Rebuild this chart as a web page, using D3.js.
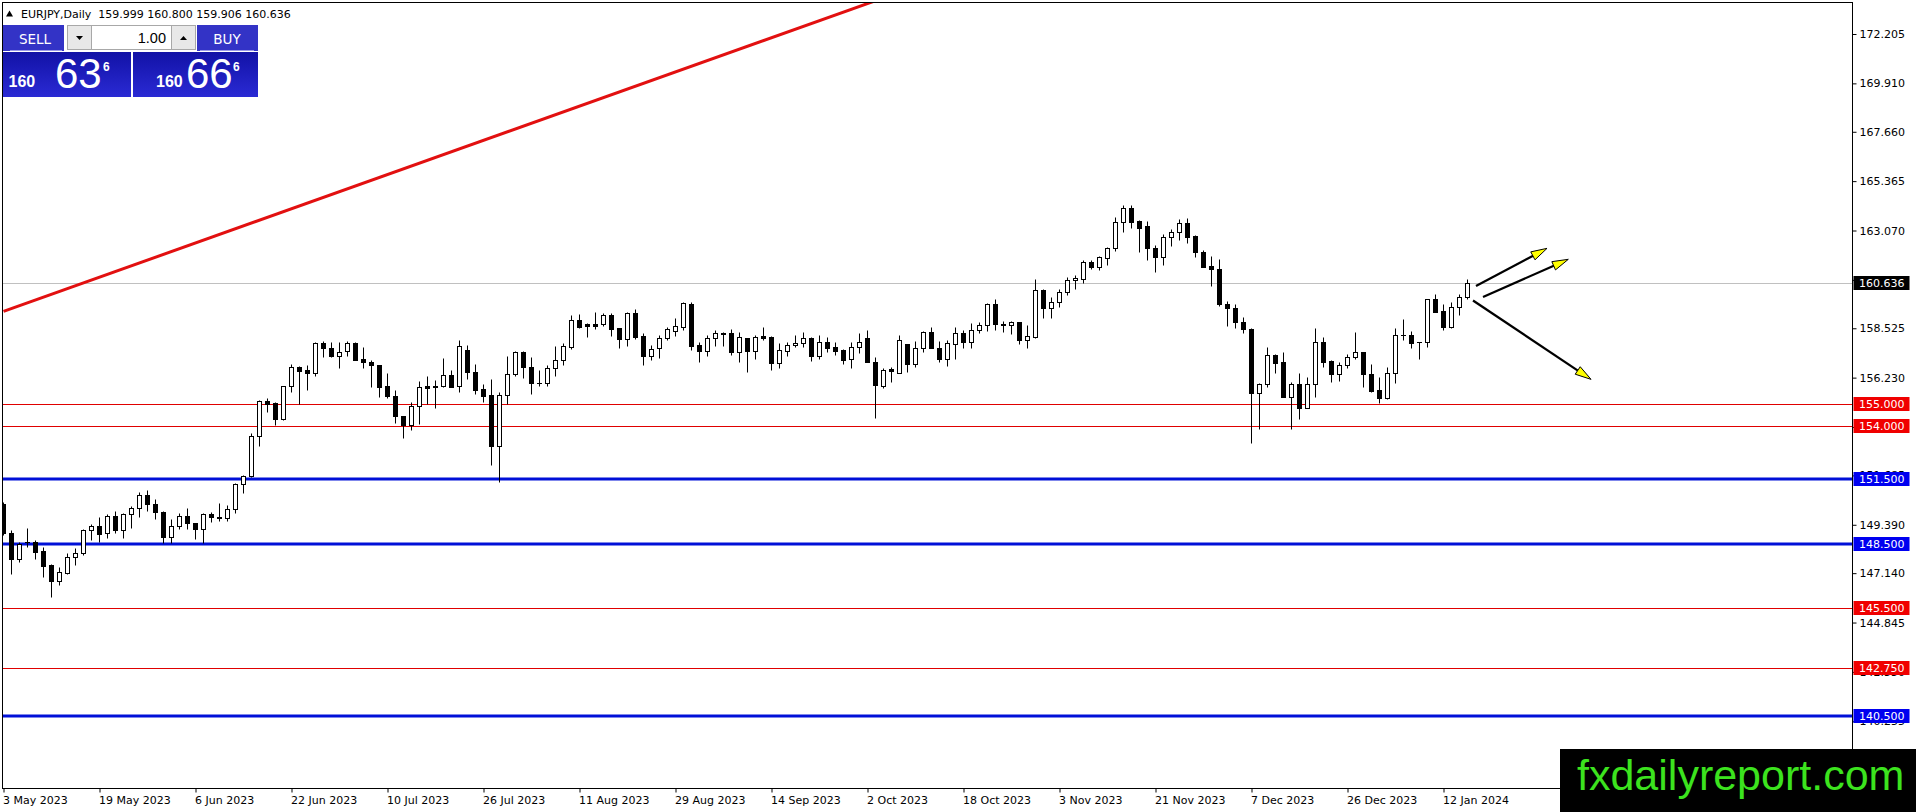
<!DOCTYPE html>
<html>
<head>
<meta charset="utf-8">
<script src="https://cdn.jsdelivr.net/npm/d3@7"></script>
<style>
  body { margin: 0; background: #fff; }
  svg { display: block; }
</style>
</head>
<body>
<div id="chart"></div>
<script>
// ---- data ----
var symbolTitle = "EURJPY,Daily";
var lastOHLC = ["159.999", "160.800", "159.906", "160.636"];

var opens = [150.35,148.99,147.78,148.58,148.60,148.17,147.52,146.79,147.13,147.90,
  148.09,149.17,149.33,149.02,149.80,149.14,149.87,150.15,150.77,150.34,
  150.00,148.84,149.33,149.80,149.45,149.20,149.89,149.75,149.70,150.10,
  151.28,151.67,153.50,155.15,155.05,154.33,155.84,156.74,156.60,156.44,
  157.84,157.60,157.22,157.45,157.84,157.09,156.95,156.83,155.85,155.39,
  154.46,154.04,154.89,155.82,155.79,155.82,156.35,155.82,157.53,156.50,
  155.70,155.43,153.03,155.43,156.41,157.40,156.72,155.96,155.99,156.66,
  157.05,157.64,158.91,158.71,158.71,158.71,159.14,158.52,158.03,159.22,
  158.16,157.25,157.59,158.06,158.41,158.60,159.65,157.75,157.49,158.06,
  158.27,158.29,157.44,158.08,157.49,158.16,158.13,156.89,157.47,157.73,
  157.82,158.06,157.25,157.87,157.64,157.50,157.09,157.67,158.05,156.94,
  155.86,156.63,156.43,157.78,156.85,157.62,158.33,157.62,157.09,157.79,
  158.32,157.90,158.43,158.67,159.65,158.72,158.67,158.80,157.98,158.13,
  160.29,159.45,159.73,160.20,160.75,160.81,161.59,161.39,161.77,162.24,
  163.48,164.10,163.51,163.28,162.24,161.82,162.75,163.02,163.40,162.81,
  162.05,161.42,161.26,159.65,159.45,158.80,158.47,155.50,155.93,157.27,
  156.94,155.31,155.93,154.80,155.93,157.87,157.00,156.40,156.82,157.17,
  157.40,156.40,155.65,155.27,156.43,158.21,158.21,157.87,157.87,159.87,
  159.33,158.60,159.53,159.999];
var highs = [150.45,149.14,148.60,149.22,148.68,148.37,147.57,147.41,148.10,148.30,
  149.20,149.42,149.73,149.89,150.03,149.92,150.26,150.93,151.00,150.57,
  150.05,149.64,149.92,150.15,149.48,149.95,150.00,150.38,150.31,151.34,
  151.70,153.67,155.20,155.28,155.08,155.84,156.88,156.78,156.83,157.87,
  157.95,157.90,157.87,157.95,157.87,157.65,157.03,156.83,156.44,155.67,
  154.46,155.08,156.08,156.32,156.13,157.14,156.60,157.99,157.76,156.86,
  155.93,156.16,155.54,157.25,157.45,157.48,157.19,156.60,156.83,157.70,
  157.86,159.14,159.17,158.78,159.26,159.22,159.22,158.55,159.30,159.42,
  158.29,157.75,158.21,158.57,158.99,159.76,159.73,157.90,158.21,158.44,
  158.37,158.49,158.34,158.08,158.21,158.57,158.16,157.82,157.90,158.21,
  158.37,158.13,158.21,158.10,157.87,157.56,157.90,158.29,158.44,157.17,
  156.66,156.74,158.21,157.78,157.93,158.39,158.57,157.95,157.98,158.57,
  158.44,158.78,158.83,159.71,159.88,158.86,158.86,158.83,158.67,160.81,
  160.33,159.99,160.35,160.92,161.00,161.70,161.70,161.90,162.32,163.71,
  164.26,164.26,163.56,163.51,162.40,162.91,163.14,163.60,163.64,162.86,
  162.16,161.88,161.73,159.81,159.65,159.06,158.52,155.99,157.67,157.31,
  157.41,156.04,156.43,156.24,158.55,158.10,157.05,156.97,157.33,158.33,
  157.40,156.86,156.27,156.71,158.52,158.95,158.41,157.90,159.87,160.10,
  159.64,159.76,160.12,160.800];
var lows = [148.90,147.08,147.64,148.37,147.80,146.98,146.05,146.59,147.10,147.52,
  147.98,148.68,148.60,148.76,148.99,148.79,149.22,149.73,150.04,149.66,
  148.53,148.53,149.18,149.18,148.73,148.53,149.53,149.58,149.58,149.95,
  150.85,151.62,153.03,154.61,154.04,154.24,155.54,155.02,155.67,156.32,
  157.19,157.19,156.66,157.22,157.06,156.70,155.78,155.33,155.28,154.12,
  153.42,153.81,154.09,155.00,154.80,155.79,155.79,155.54,156.18,155.48,
  155.08,152.15,151.36,155.02,156.32,156.21,155.46,155.82,155.82,156.32,
  156.82,157.55,158.52,158.14,158.47,158.63,158.18,157.59,157.72,158.03,
  156.82,157.05,157.16,157.98,158.18,158.44,157.51,156.97,157.25,157.72,
  157.72,157.28,156.94,156.51,157.10,157.98,156.58,156.66,157.25,157.67,
  157.67,157.00,157.10,157.41,157.28,156.86,156.66,157.36,156.94,154.37,
  155.76,156.01,156.43,156.47,156.74,157.43,157.59,156.97,156.77,157.08,
  157.62,157.62,158.29,158.40,158.44,158.33,158.24,157.79,157.62,158.09,
  158.98,159.02,159.53,160.07,160.35,160.61,161.28,161.23,161.46,162.12,
  162.98,163.17,162.09,161.70,161.16,161.46,162.37,162.63,162.47,161.85,
  161.39,160.50,159.56,158.65,158.52,158.32,153.18,153.82,155.81,156.43,
  155.31,153.82,154.33,154.80,155.31,156.71,156.04,156.09,156.66,157.08,
  155.78,155.58,155.03,155.22,156.00,157.98,157.59,157.10,157.67,159.30,
  158.44,158.52,159.14,159.906];
var closes = [148.99,147.78,148.50,148.60,148.14,147.49,146.79,147.19,147.90,148.09,
  149.17,149.33,148.97,149.80,149.14,149.87,150.15,150.77,150.34,150.00,
  148.84,149.33,149.80,149.45,149.20,149.89,149.73,149.70,150.10,151.28,
  151.67,153.51,155.15,155.01,154.33,155.84,156.72,156.52,156.44,157.84,
  157.60,157.22,157.42,157.84,157.06,156.94,156.80,155.78,155.36,154.43,
  154.04,154.89,155.79,155.76,155.82,156.35,155.79,157.71,156.47,155.67,
  155.39,153.03,155.43,156.41,157.40,156.72,155.98,155.99,156.67,157.05,
  157.70,158.91,158.60,158.65,158.65,159.14,158.47,158.03,159.22,158.13,
  157.25,157.56,158.06,158.49,158.63,159.68,157.72,157.49,158.06,158.29,
  158.29,157.44,158.11,157.49,158.11,158.08,156.89,157.50,157.75,157.82,
  158.06,157.25,157.87,157.62,157.48,157.05,157.67,157.87,156.94,155.89,
  156.58,156.55,157.98,156.85,157.62,158.33,157.62,157.09,157.82,158.32,
  157.87,158.43,158.67,159.65,158.71,158.68,158.80,157.98,158.16,160.29,
  159.45,159.73,160.23,160.75,160.85,161.59,161.39,161.82,162.24,163.48,
  164.10,163.48,163.17,162.24,161.82,162.75,163.02,163.40,162.78,162.05,
  161.39,161.26,159.65,159.45,158.80,158.47,155.50,155.93,157.27,156.93,
  155.31,155.93,154.80,155.93,157.87,156.97,156.40,156.82,157.17,157.40,
  156.40,155.62,155.27,156.43,158.21,158.19,157.86,157.89,159.87,159.30,
  158.60,159.53,159.99,160.636];

var dateLabels = ["3 May 2023", "19 May 2023", "6 Jun 2023", "22 Jun 2023", "10 Jul 2023",
  "26 Jul 2023", "11 Aug 2023", "29 Aug 2023", "14 Sep 2023", "2 Oct 2023", "18 Oct 2023",
  "3 Nov 2023", "21 Nov 2023", "7 Dec 2023", "26 Dec 2023", "12 Jan 2024"];
var dateLabelBars = [0, 12, 24, 36, 48, 60, 72, 84, 96, 108, 120, 132, 144, 156, 168, 180];

var priceTicks = [172.205, 169.910, 167.660, 165.365, 163.070, 160.775, 158.525, 156.230,
  153.935, 151.685, 149.390, 147.140, 144.845, 142.550, 140.255];

var redLevels = [155.000, 154.000, 145.500, 142.750];
var blueLevels = [151.500, 148.500, 140.500];
var bidPrice = 160.636;

// trend line and arrows, in [bar, price]
var trendLine = [[0, 159.31], [120, 175.21]];
var arrows = [
  [[184.06, 160.49], [192.94, 162.24]],
  [[184.94, 159.98], [195.60, 161.73]],
  [[183.69, 159.815], [198.44, 156.15]]
];

var lotSize = "1.00";
var sellQuote = ["160", "63", "6"];
var buyQuote = ["160", "66", "6"];
var watermark = "fxdailyreport.com";

// ---- layout ----
var svgWidth = 1916;
var svgHeight = 812;
var plot = { left: 2.5, top: 2.5, right: 1852.5, bottom: 788.5 };

var svg = d3.select("#chart")
  .append("svg")
  .attr("width", svgWidth)
  .attr("height", svgHeight)
  .attr("font-family", "DejaVu Sans");

var x = d3.scaleLinear().domain([0, 183]).range([3.5, 1467.5]);
var y = d3.scaleLinear().domain([140.5, 172.205]).range([716, 34]);
var py = function(p) { return Math.round(y(p)) + 0.5; };

var defs = svg.append("defs");
defs.append("clipPath").attr("id", "plotClip")
  .append("rect")
  .attr("x", plot.left).attr("y", plot.top)
  .attr("width", plot.right - plot.left).attr("height", plot.bottom - plot.top);

var grad = defs.append("linearGradient")
  .attr("id", "quoteFill").attr("x1", 0).attr("y1", 0).attr("x2", 0).attr("y2", 1);
grad.append("stop").attr("offset", "0%").attr("stop-color", "#1212a6");
grad.append("stop").attr("offset", "100%").attr("stop-color", "#2a2ad4");

// axes
var rightAxis = d3.axisRight(y)
  .tickValues(priceTicks)
  .tickSize(4)
  .tickPadding(3)
  .tickFormat(d3.format(".3f"));

svg.append("g")
  .attr("transform", "translate(" + plot.right + ",0)")
  .call(rightAxis)
  .call(function(g) { g.select(".domain").remove(); })
  .call(function(g) {
    g.attr("font-family", "DejaVu Sans").attr("font-size", 11);
    g.selectAll("text").attr("fill", "#000");
  });

var bottomAxis = d3.axisBottom(x)
  .tickValues(dateLabelBars)
  .tickSize(4)
  .tickFormat(function(d, i) { return dateLabels[i]; });

svg.append("g")
  .attr("transform", "translate(0," + plot.bottom + ")")
  .call(bottomAxis)
  .call(function(g) { g.select(".domain").remove(); })
  .call(function(g) {
    g.attr("font-family", "DejaVu Sans").attr("font-size", 11);
    g.selectAll("text")
      .attr("text-anchor", "start")
      .attr("x", -1)
      .attr("y", 8)
      .attr("fill", "#000");
  });

var chartGroup = svg.append("g").attr("clip-path", "url(#plotClip)");

// bid line
chartGroup.append("line")
  .attr("x1", plot.left).attr("x2", plot.right)
  .attr("y1", py(bidPrice)).attr("y2", py(bidPrice))
  .attr("stroke", "#c0c0c0").attr("stroke-width", 1);

// levels
chartGroup.selectAll(".redLevel")
  .data(redLevels)
  .enter()
  .append("line")
  .attr("class", "redLevel")
  .attr("x1", plot.left).attr("x2", plot.right)
  .attr("y1", d => py(d)).attr("y2", d => py(d))
  .attr("stroke", "#e00000").attr("stroke-width", 1);

chartGroup.selectAll(".blueLevel")
  .data(blueLevels)
  .enter()
  .append("line")
  .attr("class", "blueLevel")
  .attr("x1", plot.left).attr("x2", plot.right)
  .attr("y1", d => Math.round(y(d))).attr("y2", d => Math.round(y(d)))
  .attr("stroke", "#0010d8").attr("stroke-width", 3);

// trend line
chartGroup.append("line")
  .attr("x1", x(trendLine[0][0])).attr("y1", y(trendLine[0][1]))
  .attr("x2", x(trendLine[1][0])).attr("y2", y(trendLine[1][1]))
  .attr("stroke", "#e21010").attr("stroke-width", 3);

// candles
var bars = opens.map(function(o, i) {
  return { i: i, o: o, h: highs[i], l: lows[i], c: closes[i] };
});

var candle = chartGroup.selectAll(".candle")
  .data(bars)
  .enter()
  .append("g")
  .attr("class", "candle");

candle.append("line")
  .attr("x1", d => x(d.i)).attr("x2", d => x(d.i))
  .attr("y1", d => py(d.h)).attr("y2", d => py(d.l))
  .attr("stroke", "#000").attr("stroke-width", 1);

candle.each(function(d) {
  var g = d3.select(this);
  var top = py(Math.max(d.o, d.c));
  var bot = py(Math.min(d.o, d.c));
  if (bot - top < 1) {
    g.append("line")
      .attr("x1", x(d.i) - 2.5).attr("x2", x(d.i) + 2.5)
      .attr("y1", top).attr("y2", top)
      .attr("stroke", "#000").attr("stroke-width", 1);
  } else {
    g.append("rect")
      .attr("x", x(d.i) - 2).attr("width", 4)
      .attr("y", top).attr("height", bot - top)
      .attr("fill", d.c >= d.o ? "#fff" : "#000")
      .attr("stroke", "#000").attr("stroke-width", 1);
  }
});

// arrows
arrows.forEach(function(a) {
  var x1 = x(a[0][0]), y1 = y(a[0][1]);
  var x2 = x(a[1][0]), y2 = y(a[1][1]);
  var ang = Math.atan2(y2 - y1, x2 - x1);
  var len = 16, half = 4.5;
  var bx = x2 - len * Math.cos(ang), by = y2 - len * Math.sin(ang);
  chartGroup.append("line")
    .attr("x1", x1).attr("y1", y1).attr("x2", bx + 2 * Math.cos(ang)).attr("y2", by + 2 * Math.sin(ang))
    .attr("stroke", "#000").attr("stroke-width", 2.2);
  var pts = [
    [x2, y2],
    [bx - half * Math.sin(ang), by + half * Math.cos(ang)],
    [bx + half * Math.sin(ang), by - half * Math.cos(ang)]
  ];
  chartGroup.append("polygon")
    .attr("points", pts.map(p => p.join(",")).join(" "))
    .attr("fill", "#ffff00").attr("stroke", "#000").attr("stroke-width", 1);
});

// frame
svg.append("rect")
  .attr("x", plot.left).attr("y", plot.top)
  .attr("width", plot.right - plot.left).attr("height", plot.bottom - plot.top)
  .attr("fill", "none").attr("stroke", "#000").attr("stroke-width", 1);

// price boxes on the right scale
function priceBox(p, fill) {
  var cy = Math.round(y(p));
  svg.append("rect")
    .attr("x", plot.right + 1).attr("y", cy - 7)
    .attr("width", 56).attr("height", 14)
    .attr("fill", fill);
  svg.append("text")
    .attr("x", plot.right + 6.5).attr("y", cy + 4)
    .attr("font-size", 11).attr("fill", "#fff")
    .text(d3.format(".3f")(p));
}
redLevels.forEach(function(p) { priceBox(p, "#f00000"); });
blueLevels.forEach(function(p) { priceBox(p, "#0000f0"); });
priceBox(bidPrice, "#000");

// title
svg.append("polygon").attr("points", "6,16.5 13,16.5 9.5,10.5").attr("fill", "#000");
svg.append("text")
  .attr("x", 21).attr("y", 17.5)
  .attr("font-size", 11)
  .attr("xml:space", "preserve")
  .style("white-space", "pre")
  .text(symbolTitle + "  " + lastOHLC.join(" "));

// one click trading panel
var panel = svg.append("g");
panel.append("rect").attr("x", 3).attr("y", 25).attr("width", 61).attr("height", 26).attr("fill", "#3333c6");
panel.append("rect").attr("x", 197).attr("y", 25).attr("width", 61).attr("height", 26).attr("fill", "#3333c6");
panel.append("line").attr("x1", 10).attr("x2", 62).attr("y1", 50.5).attr("y2", 50.5).attr("stroke", "#9a9ae8");
panel.append("line").attr("x1", 200).attr("x2", 254).attr("y1", 50.5).attr("y2", 50.5).attr("stroke", "#9a9ae8");
panel.append("rect").attr("x", 67.5).attr("y", 25.5).attr("width", 24).attr("height", 24).attr("fill", "#e8e8e8").attr("stroke", "#a8a8a8");
panel.append("rect").attr("x", 91.5).attr("y", 25.5).attr("width", 80).attr("height", 24).attr("fill", "#fff").attr("stroke", "#a8a8a8");
panel.append("rect").attr("x", 171.5).attr("y", 25.5).attr("width", 24).attr("height", 24).attr("fill", "#e8e8e8").attr("stroke", "#a8a8a8");
panel.append("polygon").attr("points", "76,36 83,36 79.5,40").attr("fill", "#000");
panel.append("polygon").attr("points", "180,40 187,40 183.5,36").attr("fill", "#000");
panel.append("text").attr("x", 35).attr("y", 44).attr("text-anchor", "middle")
  .attr("font-size", 13.5).attr("fill", "#fff").text("SELL");
panel.append("text").attr("x", 227).attr("y", 44).attr("text-anchor", "middle")
  .attr("font-size", 13.5).attr("fill", "#fff").text("BUY");
panel.append("text").attr("x", 166).attr("y", 43).attr("text-anchor", "end")
  .attr("font-family", "Liberation Sans").attr("font-size", 14.5).attr("fill", "#000").text(lotSize);

function quoteBox(x0, w, q, xs) {
  panel.append("rect").attr("x", x0).attr("y", 52).attr("width", w).attr("height", 45).attr("fill", "url(#quoteFill)");
  panel.append("text").attr("x", xs[0]).attr("y", 87).attr("font-family", "Liberation Sans")
    .attr("font-weight", "bold").attr("font-size", 16).attr("fill", "#fff").text(q[0]);
  panel.append("text").attr("x", xs[1]).attr("y", 87.5).attr("font-family", "Liberation Sans")
    .attr("font-size", 42).attr("fill", "#fff").text(q[1]);
  panel.append("text").attr("x", xs[2]).attr("y", 71).attr("font-family", "Liberation Sans")
    .attr("font-weight", "bold").attr("font-size", 12).attr("fill", "#fff").text(q[2]);
}
quoteBox(3, 128, sellQuote, [8.5, 55, 103]);
quoteBox(133, 125, buyQuote, [156, 186, 233]);

// watermark
svg.append("rect").attr("x", 1560).attr("y", 749).attr("width", 356).attr("height", 63).attr("fill", "#000");
svg.append("text")
  .attr("x", 1577).attr("y", 790)
  .attr("font-family", "Liberation Sans")
  .attr("font-size", 43)
  .attr("fill", "#3ce31e")
  .text(watermark);
</script>
</body>
</html>
